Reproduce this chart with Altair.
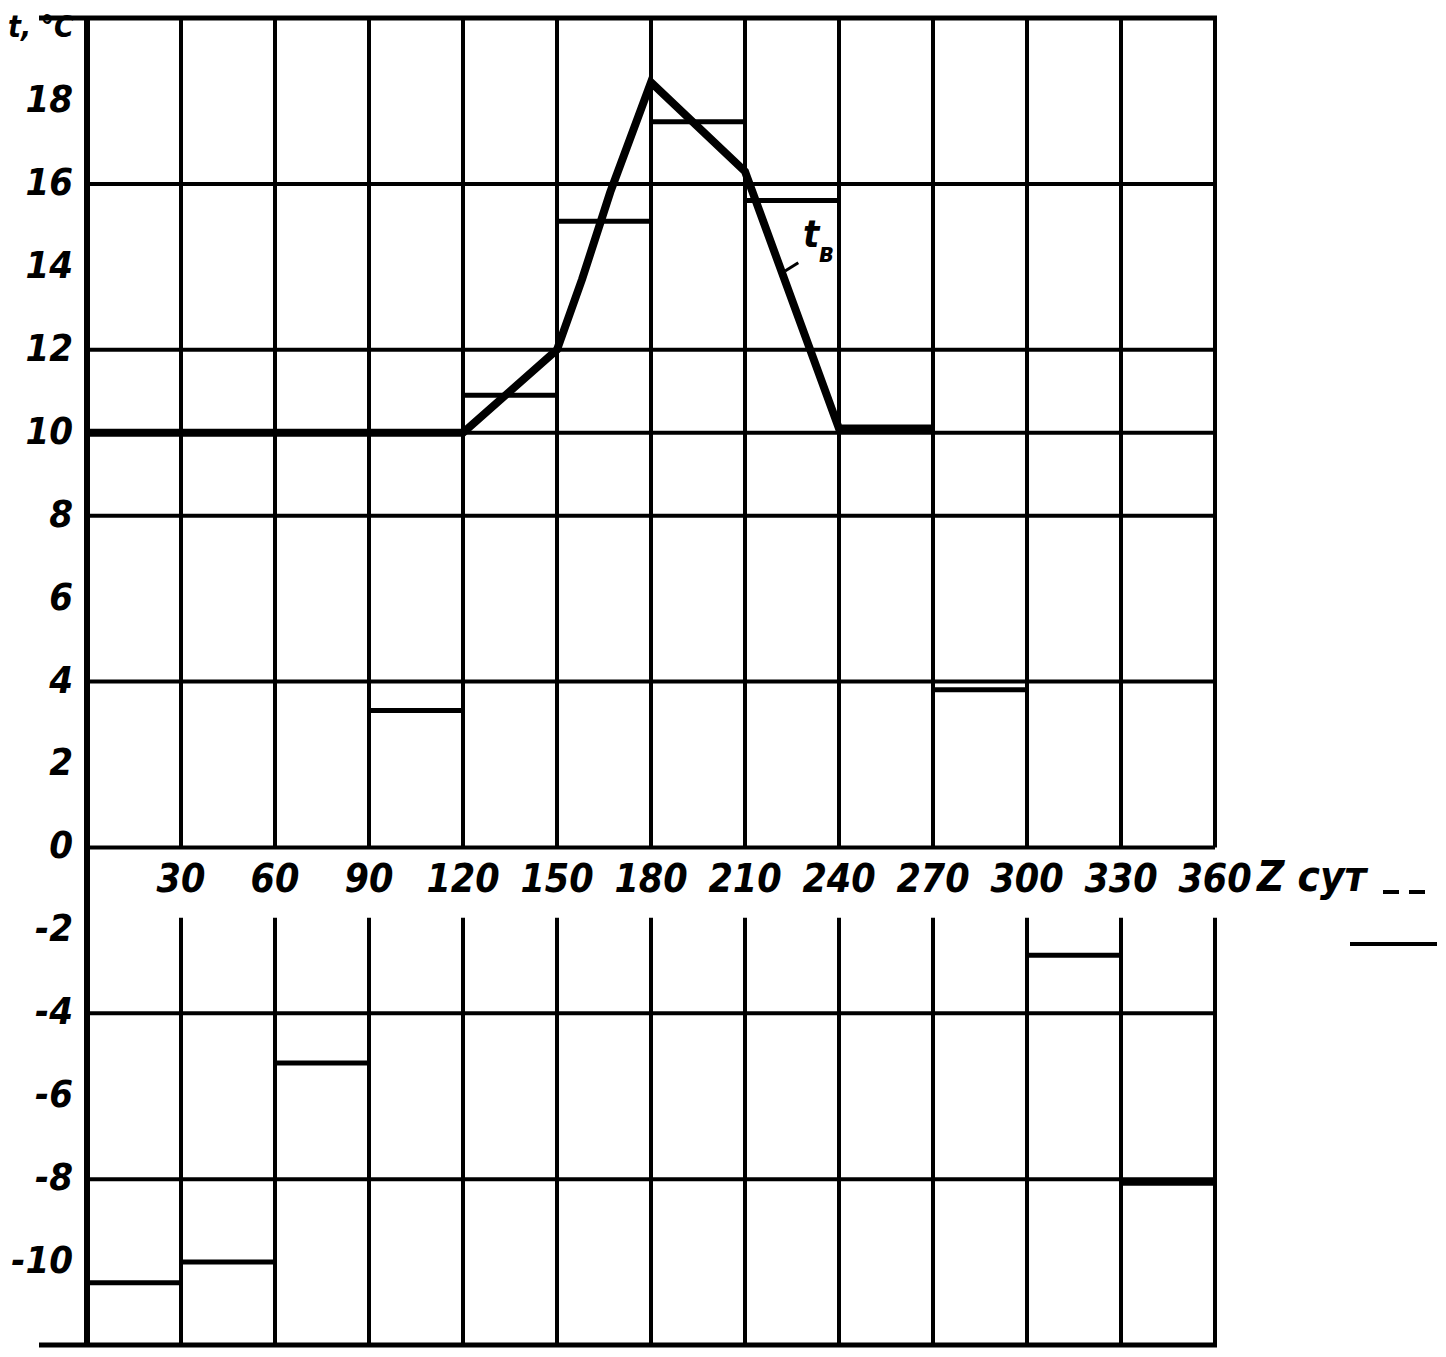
import altair as alt
import pandas as pd

# ---- data ----
x_ticks = [30, 60, 90, 120, 150, 180, 210, 240, 270, 300, 330, 360]
y_ticks = [18, 16, 14, 12, 10, 8, 6, 4, 2, 0, -2, -4, -6, -8, -10]
y_tick_labels = ["18", "16", "14", "12", "10", "8", "6", "4", "2", "0",
                 "-2", "-4", "-6", "-8", "-10"]
h_grid = [16, 12, 10, 8, 4, 0, -4, -8]
border_y = [20, -12]
v_grid = [30, 60, 90, 120, 150, 180, 210, 240, 270, 300, 330, 360]

step_start = [0, 30, 60, 90, 120, 150, 180, 210, 240, 270, 300, 330]
step_end = [30, 60, 90, 120, 150, 180, 210, 240, 270, 300, 330, 360]
step_temp = [-10.5, -10.0, -5.2, 3.3, 10.9, 15.1, 17.5, 15.6, 10.1, 3.8, -2.6, -8.1]

tv_day = [0, 30, 60, 90, 120, 150, 158, 167, 180, 210, 240, 270]
tv_temp = [10, 10, 10, 10, 10, 12, 13.7, 15.8, 18.45, 16.3, 10.1, 10.1]

XD = [0, 360]
YD = [-12, 20]
FONT = "DejaVu Sans Condensed, DejaVu Sans, sans-serif"

xs = alt.Scale(domain=XD, nice=False, zero=False)
ys = alt.Scale(domain=YD, nice=False, zero=False)


def X(f):
    return alt.X(f, type="quantitative", scale=xs, axis=None)


def Y(f):
    return alt.Y(f, type="quantitative", scale=ys, axis=None)


# horizontal grid
hg = pd.DataFrame({"y": h_grid, "x0": 0, "x1": 360})
hgrid = alt.Chart(hg).mark_rule(color="black", strokeWidth=4).encode(
    x=X("x0"), x2="x1", y=Y("y"))

bd = pd.DataFrame({"y": border_y})
borders = alt.Chart(bd).mark_rule(color="black", strokeWidth=5).encode(
    x=alt.value(-48), x2=alt.value(1130), y=Y("y"))

# vertical grid: upper part (0..20) and lower part (-12..-1.7)
vg = pd.DataFrame({"x": v_grid, "ytop": 20, "ybot": 0, "lt": -1.7, "lb": -12})
vgrid_up = alt.Chart(vg).mark_rule(color="black", strokeWidth=4).encode(
    x=X("x"), y=Y("ybot"), y2="ytop")
vgrid_lo = alt.Chart(vg).mark_rule(color="black", strokeWidth=4).encode(
    x=X("x"), y=Y("lb"), y2="lt")

# left axis line
ax = pd.DataFrame({"x": [0], "y0": [-12], "y1": [20]})
axis_left = alt.Chart(ax).mark_rule(color="black", strokeWidth=6).encode(
    x=X("x"), y=Y("y0"), y2="y1")

# monthly steps
st = pd.DataFrame({"x0": step_start, "x1": step_end, "t": step_temp})
steps = alt.Chart(st).mark_rule(color="black", strokeWidth=5).encode(
    x=X("x0"), x2="x1", y=Y("t"))

# heavy t_v line
tv = pd.DataFrame({"d": tv_day, "t": tv_temp})
tvline = alt.Chart(tv).mark_line(color="black", strokeWidth=8,
                                 strokeJoin="miter").encode(
    x=X("d"), y=Y("t"), order="d:Q")

txt_style = dict(font=FONT, fontStyle="italic", fontWeight="bold",
                 color="black")

# y tick labels
yl = pd.DataFrame({"y": y_ticks, "lab": y_tick_labels})
ylabels = alt.Chart(yl).mark_text(align="right", baseline="middle",
                                  fontSize=38, dx=-14, **txt_style).encode(
    x=alt.value(0), y=Y("y"), text="lab:N")

# x tick labels just under the zero line
xl = pd.DataFrame({"x": x_ticks, "y": 0, "lab": [str(v) for v in x_ticks]})
xlabels = alt.Chart(xl).mark_text(align="center", baseline="middle",
                                  fontSize=39, dy=33, **txt_style).encode(
    x=X("x"), y=Y("y"), text="lab:N")

# unit label after 360
zl = pd.DataFrame({"x": [360], "y": [0], "lab": ["Z сут"]})
zlabel = alt.Chart(zl).mark_text(align="left", baseline="middle",
                                 fontSize=42, dx=42, dy=31, **txt_style).encode(
    x=X("x"), y=Y("y"), text="lab:N")

# legend keys (dashed after Zсут, solid below)
dash_key = alt.Chart(pd.DataFrame({"k": [1]})).mark_rule(
    color="black", strokeWidth=4, strokeDash=[16, 10]).encode(
    x=alt.value(1296), x2=alt.value(1348), y=alt.value(874))
solid_key = alt.Chart(pd.DataFrame({"k": [1]})).mark_rule(
    color="black", strokeWidth=4).encode(
    x=alt.value(1263), x2=alt.value(1350), y=alt.value(926))

# axis title
ttl = alt.Chart(pd.DataFrame({"lab": ["t, °C"]})).mark_text(
    align="left", baseline="middle", fontSize=30, **txt_style).encode(
    x=alt.value(-79), y=alt.value(10), text="lab:N")

# t_v annotation
tv_lab_x = [228.5]
tv_lab_y = [14.75]
tv_sub_x = [233.5]
tv_sub_y = [14.3]
lead = pd.DataFrame({"x0": [222.8], "y0": [13.9], "x1": [227.0], "y1": [14.1]})
leader = alt.Chart(lead).mark_rule(color="black", strokeWidth=3).encode(
    x=X("x0"), y=Y("y0"), x2="x1", y2="y1")
tl = alt.Chart(pd.DataFrame({"x": tv_lab_x, "y": tv_lab_y, "lab": ["t"]})).mark_text(
    align="left", baseline="middle", fontSize=38, **txt_style).encode(
    x=X("x"), y=Y("y"), text="lab:N")
ts = alt.Chart(pd.DataFrame({"x": tv_sub_x, "y": tv_sub_y, "lab": ["в"]})).mark_text(
    align="left", baseline="middle", fontSize=26, **txt_style).encode(
    x=X("x"), y=Y("y"), text="lab:N")

chart = alt.layer(
    hgrid, vgrid_up, vgrid_lo, borders, axis_left, steps, tvline,
    ylabels, xlabels, zlabel, dash_key, solid_key, ttl, leader, tl, ts
).properties(
    width=1128, height=1327,
    padding={"left": 79, "top": 10, "right": 222, "bottom": 4},
    autosize=alt.AutoSizeParams(type="none"),
    background="white",
).configure_view(stroke=None, clip=False)

chart.save("out.html", embed_options={"renderer": "svg", "actions": False})
